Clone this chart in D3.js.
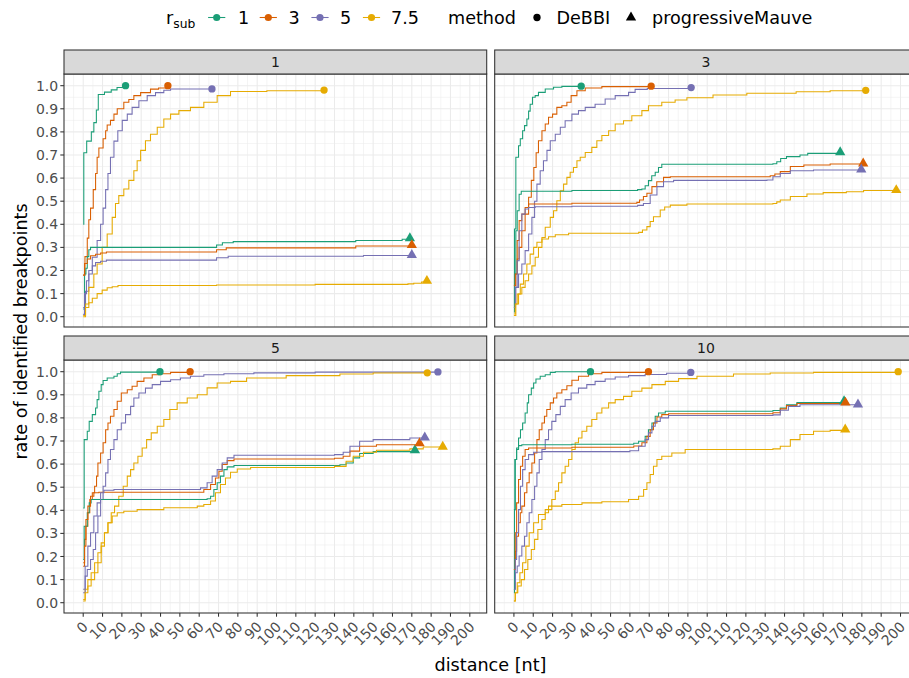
<!DOCTYPE html>
<html><head><meta charset="utf-8">
<script src="https://cdn.jsdelivr.net/npm/d3@7"></script>
<style>body{margin:0;background:#fff} svg{display:block;font-family:"DejaVu Sans",sans-serif}</style>
</head><body><svg id="c" width="909" height="678"></svg>
<script>
// ---------- categories ----------
const facets = ["1", "3", "5", "10"];
const rsubLevels = ["1", "3", "5", "7.5"];
const methods = ["DeBBI", "progressiveMauve"];
const palette = ["#1B9E77", "#D95F02", "#7570B3", "#E6AB02"];
const xTickValues = d3.range(0, 201, 10);
const yTickValues = d3.range(0, 11).map(i => i / 10);

// ---------- series values: [distance, rate] ----------
// facet 1, DeBBI
const d1_r1 = [[0,0.40],[0.3,0.71],[1.8,0.76],[4.2,0.80],[5.5,0.84],[6.8,0.895],[7.8,0.962],[11,0.972],[14.5,0.982],[17.5,0.992],[20.5,0.998],[21.9,1.0]];
const d1_r3 = [[0,0.18],[0.9,0.26],[2.1,0.34],[2.9,0.42],[3.8,0.47],[5.2,0.55],[6.4,0.62],[7.2,0.69],[8.1,0.73],[10.3,0.77],[11.6,0.805],[12.4,0.83],[14.1,0.85],[15.9,0.877],[17.6,0.9],[21,0.928],[23.6,0.94],[26.2,0.957],[29.7,0.97],[34.8,0.985],[39,0.99],[43.8,1.0]];
const d1_r5 = [[0,0.04],[1.2,0.11],[2.9,0.185],[4.7,0.257],[7.2,0.33],[9,0.40],[10.3,0.47],[11.6,0.55],[12.8,0.62],[14.1,0.69],[15.9,0.76],[17.9,0.805],[20.2,0.85],[22.8,0.877],[25.3,0.906],[28.8,0.935],[33.1,0.957],[37.4,0.97],[41.7,0.98],[45.2,0.986],[66.6,0.986]];
const d1_r75 = [[0,0.005],[1.2,0.055],[2.9,0.127],[5.5,0.185],[7.2,0.228],[9.8,0.30],[12.4,0.358],[15,0.43],[16.7,0.49],[18.4,0.524],[21,0.553],[23.6,0.59],[26.2,0.632],[27.9,0.675],[29.7,0.72],[32.2,0.762],[34.8,0.79],[38.3,0.82],[41.7,0.856],[45.2,0.877],[49.5,0.892],[55.5,0.906],[62.4,0.928],[69.3,0.957],[76.2,0.975],[95,0.978],[124.6,0.981]];
// facet 1, progressiveMauve
const p1_r1 = [[0,0.033],[0.7,0.185],[1.4,0.21],[2.1,0.26],[2.9,0.29],[3.8,0.30],[69,0.31],[72,0.32],[77.6,0.325],[141,0.33],[165,0.335],[169,0.34]];
const p1_r3 = [[0,0.18],[0.7,0.23],[2.1,0.25],[3.8,0.264],[6.4,0.27],[9,0.276],[12,0.28],[69,0.29],[74,0.298],[141,0.306],[170,0.31]];
const p1_r5 = [[0,0.01],[0.7,0.1],[1.7,0.156],[2.9,0.2],[4.7,0.22],[6.4,0.235],[9,0.24],[12,0.245],[69,0.255],[75,0.262],[145,0.265],[170,0.267]];
const p1_r75 = [[0,0],[1.2,0.04],[2.9,0.06],[4.7,0.08],[7.2,0.1],[9.8,0.115],[12.4,0.125],[15,0.13],[18,0.135],[69,0.137],[120,0.14],[168,0.142],[171,0.145],[175,0.15],[177.8,0.155]];
// facet 3, DeBBI
const d3_r1 = [[0,0.02],[0.3,0.38],[1,0.69],[2.4,0.74],[3.3,0.77],[4.5,0.805],[5.5,0.827],[6.7,0.856],[7.6,0.89],[8.4,0.92],[9.6,0.95],[11,0.957],[12.7,0.971],[16.2,0.986],[20.5,0.993],[24.8,0.997],[34.8,0.998]];
const d3_r3 = [[0,0.134],[1,0.185],[1.7,0.25],[2.7,0.30],[4.1,0.372],[5.8,0.444],[7.6,0.517],[9,0.59],[10.3,0.646],[11.5,0.71],[12.7,0.762],[14.5,0.805],[16.2,0.834],[17.9,0.863],[20,0.877],[22.2,0.906],[24.8,0.913],[27.4,0.928],[29.6,0.957],[32.6,0.978],[36.9,0.99],[45.5,0.996],[71,0.998]];
const d3_r5 = [[0,0.055],[1,0.127],[2.4,0.185],[4.1,0.228],[5.8,0.286],[7.6,0.358],[9.3,0.43],[10.7,0.50],[11.9,0.574],[13.6,0.632],[15.3,0.675],[17.1,0.72],[18.8,0.762],[21.4,0.79],[24,0.82],[26.5,0.848],[30,0.877],[33.4,0.892],[36.9,0.906],[42,0.92],[47.2,0.942],[52.4,0.957],[59.3,0.971],[62.7,0.984],[69,0.988],[91.7,0.992]];
const d3_r75 = [[0,0.005],[1,0.055],[2.4,0.098],[4.1,0.127],[5.8,0.156],[7.6,0.185],[9.3,0.22],[11,0.257],[12.7,0.30],[14.5,0.343],[16.2,0.387],[18.8,0.43],[20.5,0.459],[22.2,0.502],[24,0.545],[25.7,0.574],[27.4,0.603],[29.1,0.625],[30.8,0.646],[32.6,0.675],[34.3,0.69],[36.9,0.711],[40.3,0.733],[42.9,0.762],[45.5,0.784],[49,0.805],[52.4,0.834],[56.7,0.848],[61,0.87],[66.2,0.892],[69.6,0.913],[76.5,0.928],[83.4,0.938],[89.5,0.948],[103,0.96],[120.5,0.967],[146,0.974],[163.6,0.978],[182,0.98]];
// facet 3, progressiveMauve
const p3_r1 = [[0,0.04],[0.3,0.185],[1,0.372],[1.7,0.459],[2.7,0.53],[3.8,0.543],[30,0.546],[64,0.55],[66.2,0.553],[67.9,0.567],[69.6,0.589],[71.3,0.61],[73.1,0.625],[74.8,0.646],[76.5,0.66],[134,0.662],[136,0.671],[138,0.685],[141,0.693],[148,0.70],[152,0.707],[168.8,0.712]];
const p3_r3 = [[0,0.134],[0.7,0.185],[1.7,0.33],[2.7,0.416],[4.1,0.444],[5.8,0.473],[7.6,0.488],[30,0.491],[63.6,0.495],[65,0.505],[67,0.52],[68.8,0.534],[71.4,0.563],[73.9,0.584],[77.4,0.603],[80.9,0.606],[132.6,0.61],[135,0.618],[137.8,0.628],[143,0.65],[150,0.657],[163.6,0.661],[180.7,0.663]];
const p3_r5 = [[0,0.04],[0.7,0.127],[1.7,0.242],[2.7,0.372],[4.1,0.444],[5.8,0.466],[7.6,0.473],[11,0.476],[30,0.478],[64,0.482],[67,0.49],[70.5,0.527],[74,0.563],[77.4,0.584],[82.6,0.59],[130.9,0.592],[134,0.606],[137.8,0.62],[143,0.632],[155,0.635],[179.7,0.637]];
const p3_r75 = [[0,0.012],[0.7,0.055],[1.7,0.098],[3.3,0.141],[5,0.185],[6.7,0.228],[8.4,0.271],[10.2,0.30],[11.9,0.322],[14.5,0.336],[17.9,0.346],[21.4,0.355],[28.3,0.361],[64.5,0.365],[66.5,0.375],[68.8,0.39],[70.5,0.412],[72.2,0.433],[75.7,0.462],[78,0.475],[80.9,0.483],[89.5,0.488],[134,0.49],[136,0.497],[137.8,0.505],[143,0.52],[151.6,0.531],[160,0.537],[172,0.541],[180.9,0.546],[197.8,0.548]];
// facet 5, DeBBI
const d5_r1 = [[0,0.41],[0.5,0.706],[2.1,0.742],[3.1,0.785],[4.7,0.814],[6.4,0.843],[7.2,0.879],[8.1,0.915],[9.3,0.944],[10.3,0.962],[12.4,0.973],[15.9,0.98],[17.6,0.991],[19.3,0.998],[39.7,1.0]];
const d5_r3 = [[0,0.173],[0.7,0.274],[1.4,0.331],[2.4,0.389],[3.4,0.447],[4.7,0.476],[5.9,0.504],[6.9,0.548],[7.6,0.605],[9,0.648],[10.3,0.692],[11.6,0.749],[12.8,0.778],[14.1,0.807],[15.9,0.836],[17.6,0.872],[19.7,0.908],[22.8,0.922],[25.3,0.937],[27.9,0.958],[31.4,0.973],[35.7,0.987],[40,0.991],[45.2,0.997],[55.3,1.0]];
const d5_r5 = [[0,0.058],[1,0.115],[2.1,0.144],[3.8,0.187],[5.2,0.23],[6.4,0.303],[7.6,0.375],[9,0.447],[10.3,0.504],[11.6,0.562],[12.8,0.62],[14.1,0.663],[15.9,0.706],[17.6,0.749],[19.7,0.778],[21.9,0.814],[24.5,0.85],[26.2,0.886],[28.8,0.908],[32.2,0.929],[35.7,0.944],[40,0.958],[45.2,0.965],[50.3,0.973],[55.5,0.98],[62.4,0.987],[72.8,0.991],[88.3,0.995],[120,0.998],[183.5,0.999]];
const d5_r75 = [[0,0.014],[1,0.058],[2.4,0.1],[4.1,0.13],[5.9,0.173],[7.6,0.216],[9.3,0.259],[11,0.303],[12.8,0.346],[14.5,0.389],[16.2,0.418],[18.4,0.461],[20.7,0.504],[22.8,0.548],[24.5,0.576],[26.2,0.605],[28.3,0.634],[30.5,0.67],[32.8,0.706],[35.2,0.735],[38.3,0.764],[41.7,0.793],[44.8,0.836],[48.6,0.865],[53.8,0.886],[59,0.9],[64.1,0.93],[69.3,0.951],[76.2,0.958],[84.5,0.973],[105,0.983],[132.8,0.99],[150,0.994],[178,0.995]];
// facet 5, progressiveMauve
const p5_r1 = [[0,0.187],[0.5,0.331],[2.1,0.389],[3.1,0.432],[4.1,0.447],[64.1,0.45],[65.9,0.461],[67.6,0.49],[69.3,0.519],[71,0.548],[72.8,0.576],[74.5,0.588],[78,0.594],[132.8,0.597],[136,0.605],[139.7,0.627],[143,0.646],[150,0.654],[171.6,0.66]];
const p5_r3 = [[0,0.158],[0.7,0.245],[1.4,0.36],[2.4,0.418],[3.8,0.461],[5.5,0.476],[8.1,0.478],[62.4,0.49],[65.9,0.512],[68.4,0.54],[70.2,0.569],[71.9,0.598],[74.5,0.615],[78,0.622],[130,0.625],[134.5,0.634],[138,0.656],[143,0.677],[151.7,0.684],[174,0.69]];
const p5_r5 = [[0,0.043],[1,0.158],[2.4,0.245],[3.8,0.303],[5.5,0.375],[7.2,0.432],[9,0.476],[10.7,0.487],[15.9,0.49],[60.7,0.497],[64.1,0.519],[66.7,0.548],[69.3,0.576],[71.9,0.605],[74.5,0.627],[78,0.638],[130,0.641],[134.5,0.651],[138,0.677],[143,0.699],[150,0.706],[169,0.713],[176.7,0.715]];
const p5_r75 = [[0,0.007],[1,0.043],[2.4,0.072],[4.1,0.1],[5.9,0.13],[7.6,0.173],[9.3,0.245],[11,0.303],[12.8,0.346],[15,0.375],[17.6,0.389],[21,0.396],[27.9,0.403],[41.7,0.411],[59,0.418],[62.4,0.425],[65.9,0.44],[68.4,0.476],[71,0.512],[73.6,0.54],[76.2,0.565],[79.7,0.579],[86.6,0.585],[130,0.59],[136,0.612],[139.7,0.634],[145,0.651],[151.7,0.66],[169,0.666],[175.9,0.674],[186,0.675]];
// facet 10, DeBBI
const d10_r1 = [[0,0.403],[0.5,0.62],[1.4,0.67],[2.4,0.713],[3.4,0.749],[4.5,0.778],[5.8,0.821],[6.9,0.865],[7.6,0.9],[9,0.929],[10.2,0.951],[11.4,0.968],[13.6,0.98],[16.2,0.987],[18.8,0.997],[21.4,1.0],[39.6,1.0]];
const d10_r3 = [[0,0.144],[0.7,0.223],[1.4,0.288],[2.4,0.346],[3.3,0.389],[4.1,0.418],[5.5,0.476],[6.7,0.519],[7.9,0.562],[9.3,0.605],[10.7,0.648],[11.9,0.706],[13.1,0.749],[14.5,0.778],[15.8,0.807],[17,0.836],[18.8,0.865],[20.5,0.886],[22.2,0.908],[24.8,0.922],[27.4,0.939],[30,0.963],[33.4,0.98],[38.6,0.991],[45.5,0.997],[69.6,1.0]];
const d10_r5 = [[0,0.058],[0.7,0.13],[1.7,0.159],[2.7,0.202],[4.1,0.245],[5.5,0.288],[6.7,0.346],[7.9,0.389],[9.3,0.447],[10.7,0.504],[11.9,0.562],[13.1,0.62],[14.5,0.663],[16.2,0.706],[17.9,0.749],[19.6,0.785],[21.7,0.814],[24,0.85],[26.5,0.879],[29.6,0.908],[33.4,0.929],[37.7,0.944],[42,0.958],[47.2,0.968],[52.4,0.977],[59.3,0.983],[67.9,0.988],[79,0.993],[91.5,0.997]];
const d10_r75 = [[0,0.007],[0.7,0.043],[2,0.072],[3.8,0.1],[5.5,0.144],[7.2,0.187],[9,0.23],[10.7,0.274],[12.4,0.317],[14.5,0.36],[16.2,0.389],[17.9,0.418],[19.6,0.447],[21.4,0.483],[23.1,0.519],[24.8,0.562],[26.5,0.591],[28.3,0.62],[30,0.663],[31.7,0.692],[33.4,0.713],[35.2,0.742],[37.7,0.764],[40.3,0.793],[42.9,0.821],[45.5,0.843],[49,0.865],[52.4,0.879],[56.7,0.893],[61,0.915],[66.2,0.929],[71.4,0.944],[78.3,0.958],[85.2,0.97],[94.7,0.98],[113.6,0.99],[132.6,0.994],[155,0.997],[198.8,1.0]];
// facet 10, progressiveMauve
const p10_r1 = [[0,0.043],[0.3,0.403],[0.7,0.62],[1.4,0.663],[2.4,0.68],[4.1,0.684],[30,0.686],[62,0.69],[64.5,0.699],[67.9,0.72],[69.6,0.749],[71.4,0.778],[73.1,0.807],[74.8,0.821],[78.3,0.829],[134,0.832],[137.8,0.843],[141,0.857],[146.4,0.867],[170.8,0.872]];
const p10_r3 = [[0,0.144],[0.7,0.303],[1.4,0.432],[2.4,0.533],[3.4,0.591],[4.5,0.634],[5.8,0.663],[7.6,0.67],[30,0.673],[62,0.678],[66.2,0.692],[68.8,0.72],[70.5,0.749],[72.2,0.778],[74,0.804],[76.5,0.814],[80,0.818],[134,0.822],[137.8,0.839],[141,0.853],[146.4,0.862],[171.5,0.866]];
const p10_r5 = [[0,0.058],[0.7,0.187],[1.4,0.303],[2.4,0.403],[3.4,0.504],[4.5,0.576],[5.8,0.62],[7.6,0.641],[10.2,0.651],[14.5,0.654],[60,0.658],[64.5,0.677],[67.9,0.706],[69.6,0.735],[71.4,0.764],[73.1,0.785],[75.7,0.8],[80,0.81],[134,0.813],[137.8,0.833],[142,0.85],[148,0.857],[178,0.858]];
const p10_r75 = [[0,0.007],[0.7,0.043],[1.7,0.086],[3.1,0.13],[4.5,0.173],[6.2,0.245],[7.9,0.303],[10.2,0.346],[12.7,0.382],[16.2,0.403],[19.6,0.418],[24.8,0.425],[35.2,0.432],[45.5,0.437],[59.3,0.447],[64.5,0.461],[67.1,0.49],[68.8,0.519],[70.5,0.555],[72.2,0.591],[74,0.62],[76.5,0.634],[81.7,0.648],[88.6,0.663],[134,0.666],[137.8,0.677],[143,0.706],[148,0.728],[155,0.742],[163.6,0.746],[171.4,0.75]];

const seriesTable = [
  ["1", [d1_r1, d1_r3, d1_r5, d1_r75], [p1_r1, p1_r3, p1_r5, p1_r75]],
  ["3", [d3_r1, d3_r3, d3_r5, d3_r75], [p3_r1, p3_r3, p3_r5, p3_r75]],
  ["5", [d5_r1, d5_r3, d5_r5, d5_r75], [p5_r1, p5_r3, p5_r5, p5_r75]],
  ["10", [d10_r1, d10_r3, d10_r5, d10_r75], [p10_r1, p10_r3, p10_r5, p10_r75]]
];

// ---------- layout ----------
const svg = d3.select("#c");
const pw = 422.7, ph = 253, stripH = 24;
const panelPos = { "1": [64, 74], "3": [494.7, 74], "5": [64, 360], "10": [494.7, 360] };
const x = d3.scaleLinear().domain([-9.94, 208.74]).range([0, pw]);
const y = d3.scaleLinear().domain([-0.0446, 1.0506]).range([ph, 0]);
const color = d3.scaleOrdinal().domain(rsubLevels).range(palette);
const shapeFor = m => m === "DeBBI" ? d3.symbolCircle : d3.symbolTriangle;
const line = d3.line().x(d => x(d[0])).y(d => y(d[1])).curve(d3.curveStepAfter);

const xMinor = d3.range(-5, 210, 10);
const yMinor = d3.range(0, 11).map(i => i / 10 + 0.05).concat([-0.05]).filter(v => v >= -0.0446 && v <= 1.0506);

facets.forEach((f, fi) => {
  const [px, py] = panelPos[f];
  const g = svg.append("g").attr("transform", `translate(${px},${py})`);
  g.append("rect").attr("width", pw).attr("height", ph).attr("fill", "#fff");
  const clipId = "clip" + fi;
  g.append("clipPath").attr("id", clipId).append("rect").attr("width", pw).attr("height", ph);
  const grid = g.append("g").attr("clip-path", `url(#${clipId})`);
  grid.selectAll(".xm").data(xMinor).join("line")
    .attr("x1", d => x(d)).attr("x2", d => x(d)).attr("y1", 0).attr("y2", ph)
    .attr("stroke", "#EBEBEB").attr("stroke-width", 0.55);
  grid.selectAll(".ym").data(yMinor).join("line")
    .attr("y1", d => y(d)).attr("y2", d => y(d)).attr("x1", 0).attr("x2", pw)
    .attr("stroke", "#EBEBEB").attr("stroke-width", 0.55);
  grid.selectAll(".xM").data(xTickValues).join("line")
    .attr("x1", d => x(d)).attr("x2", d => x(d)).attr("y1", 0).attr("y2", ph)
    .attr("stroke", "#EBEBEB").attr("stroke-width", 1.07);
  grid.selectAll(".yM").data(yTickValues).join("line")
    .attr("y1", d => y(d)).attr("y2", d => y(d)).attr("x1", 0).attr("x2", pw)
    .attr("stroke", "#EBEBEB").attr("stroke-width", 1.07);

  const row = seriesTable.find(r => r[0] === f);
  const marks = g.append("g").attr("clip-path", `url(#${clipId})`);
  methods.forEach((m, mi) => {
    row[mi + 1].forEach((pts, ri) => {
      marks.append("path").attr("d", line(pts)).attr("fill", "none")
        .attr("stroke", color(rsubLevels[ri])).attr("stroke-width", 1.07);
    });
  });
  methods.forEach((m, mi) => {
    row[mi + 1].forEach((pts, ri) => {
      const last = pts[pts.length - 1];
      g.append("path")
        .attr("d", d3.symbol().type(shapeFor(m)).size(m === "DeBBI" ? 42 : 46)())
        .attr("transform", `translate(${x(last[0])},${y(last[1])})`)
        .attr("fill", color(rsubLevels[ri]));
    });
  });
  g.append("rect").attr("width", pw).attr("height", ph).attr("fill", "none")
    .attr("stroke", "#333333").attr("stroke-width", 1.07);

  // strip
  const s = svg.append("g").attr("transform", `translate(${px},${py - stripH})`);
  s.append("rect").attr("width", pw).attr("height", stripH).attr("fill", "#D9D9D9")
    .attr("stroke", "#333333").attr("stroke-width", 1.07);
  s.append("text").attr("x", pw / 2).attr("y", stripH / 2).attr("dy", "0.36em")
    .attr("text-anchor", "middle").attr("font-size", 14).attr("fill", "#1A1A1A").text(f);

  // y axis on left column
  if (px < 100) {
    const ya = svg.append("g").attr("transform", `translate(${px},${py})`);
    yTickValues.forEach(v => {
      ya.append("line").attr("x1", -3.7).attr("x2", 0).attr("y1", y(v)).attr("y2", y(v))
        .attr("stroke", "#333333").attr("stroke-width", 1.07);
      ya.append("text").attr("x", -5.8).attr("y", y(v)).attr("dy", "0.36em")
        .attr("text-anchor", "end").attr("font-size", 14).attr("fill", "#4D4D4D").text(v.toFixed(1));
    });
  }
  // x axis on bottom row
  if (py > 200) {
    const xa = svg.append("g").attr("transform", `translate(${px},${py + ph})`);
    xTickValues.forEach(v => {
      xa.append("line").attr("x1", x(v)).attr("x2", x(v)).attr("y1", 0).attr("y2", 3.7)
        .attr("stroke", "#333333").attr("stroke-width", 1.07);
      xa.append("text").attr("transform", `translate(${x(v) - 1.5},${7.5}) rotate(-45)`)
        .attr("dy", "0.72em").attr("text-anchor", "end").attr("font-size", 14)
        .attr("fill", "#4D4D4D").text(v);
    });
  }
});

// axis titles
svg.append("text").attr("x", 490.5).attr("y", 671).attr("text-anchor", "middle")
  .attr("font-size", 17.6).attr("fill", "#000").text("distance [nt]");
svg.append("text").attr("transform", "translate(27,331.5) rotate(-90)").attr("text-anchor", "middle")
  .attr("font-size", 17.6).attr("fill", "#000").text("rate of identified breakpoints");

// legend
const lg = svg.append("g");
const ly = 17.5;
const rt = lg.append("text").attr("x", 166).attr("y", ly).attr("dy", "0.36em").attr("font-size", 17.6).attr("fill", "#000");
rt.append("tspan").text("r");
rt.append("tspan").attr("font-size", 12.3).attr("dy", "0.3em").text("sub");
const keyX = [216.7, 268.3, 320, 371.5];
const labX = [238, 288.5, 340, 391];
rsubLevels.forEach((r, i) => {
  lg.append("line").attr("x1", keyX[i] - 8.6).attr("x2", keyX[i] + 8.6).attr("y1", ly).attr("y2", ly)
    .attr("stroke", color(r)).attr("stroke-width", 1.07);
  lg.append("circle").attr("cx", keyX[i]).attr("cy", ly).attr("r", 3.6).attr("fill", color(r));
  lg.append("text").attr("x", labX[i]).attr("y", ly).attr("dy", "0.36em").attr("font-size", 17.6)
    .attr("fill", "#000").text(r);
});
lg.append("text").attr("x", 448).attr("y", ly).attr("dy", "0.36em").attr("font-size", 17.6).attr("fill", "#000").text("method");
const methKeyX = [537, 631];
const methLabX = [556.5, 652];
methods.forEach((m, i) => {
  lg.append("path").attr("d", d3.symbol().type(shapeFor(m)).size(m === "DeBBI" ? 42 : 46)())
    .attr("transform", `translate(${methKeyX[i]},${ly})`).attr("fill", "#000");
  lg.append("text").attr("x", methLabX[i]).attr("y", ly).attr("dy", "0.36em").attr("font-size", 17.6)
    .attr("fill", "#000").text(m);
});
</script></body></html>
